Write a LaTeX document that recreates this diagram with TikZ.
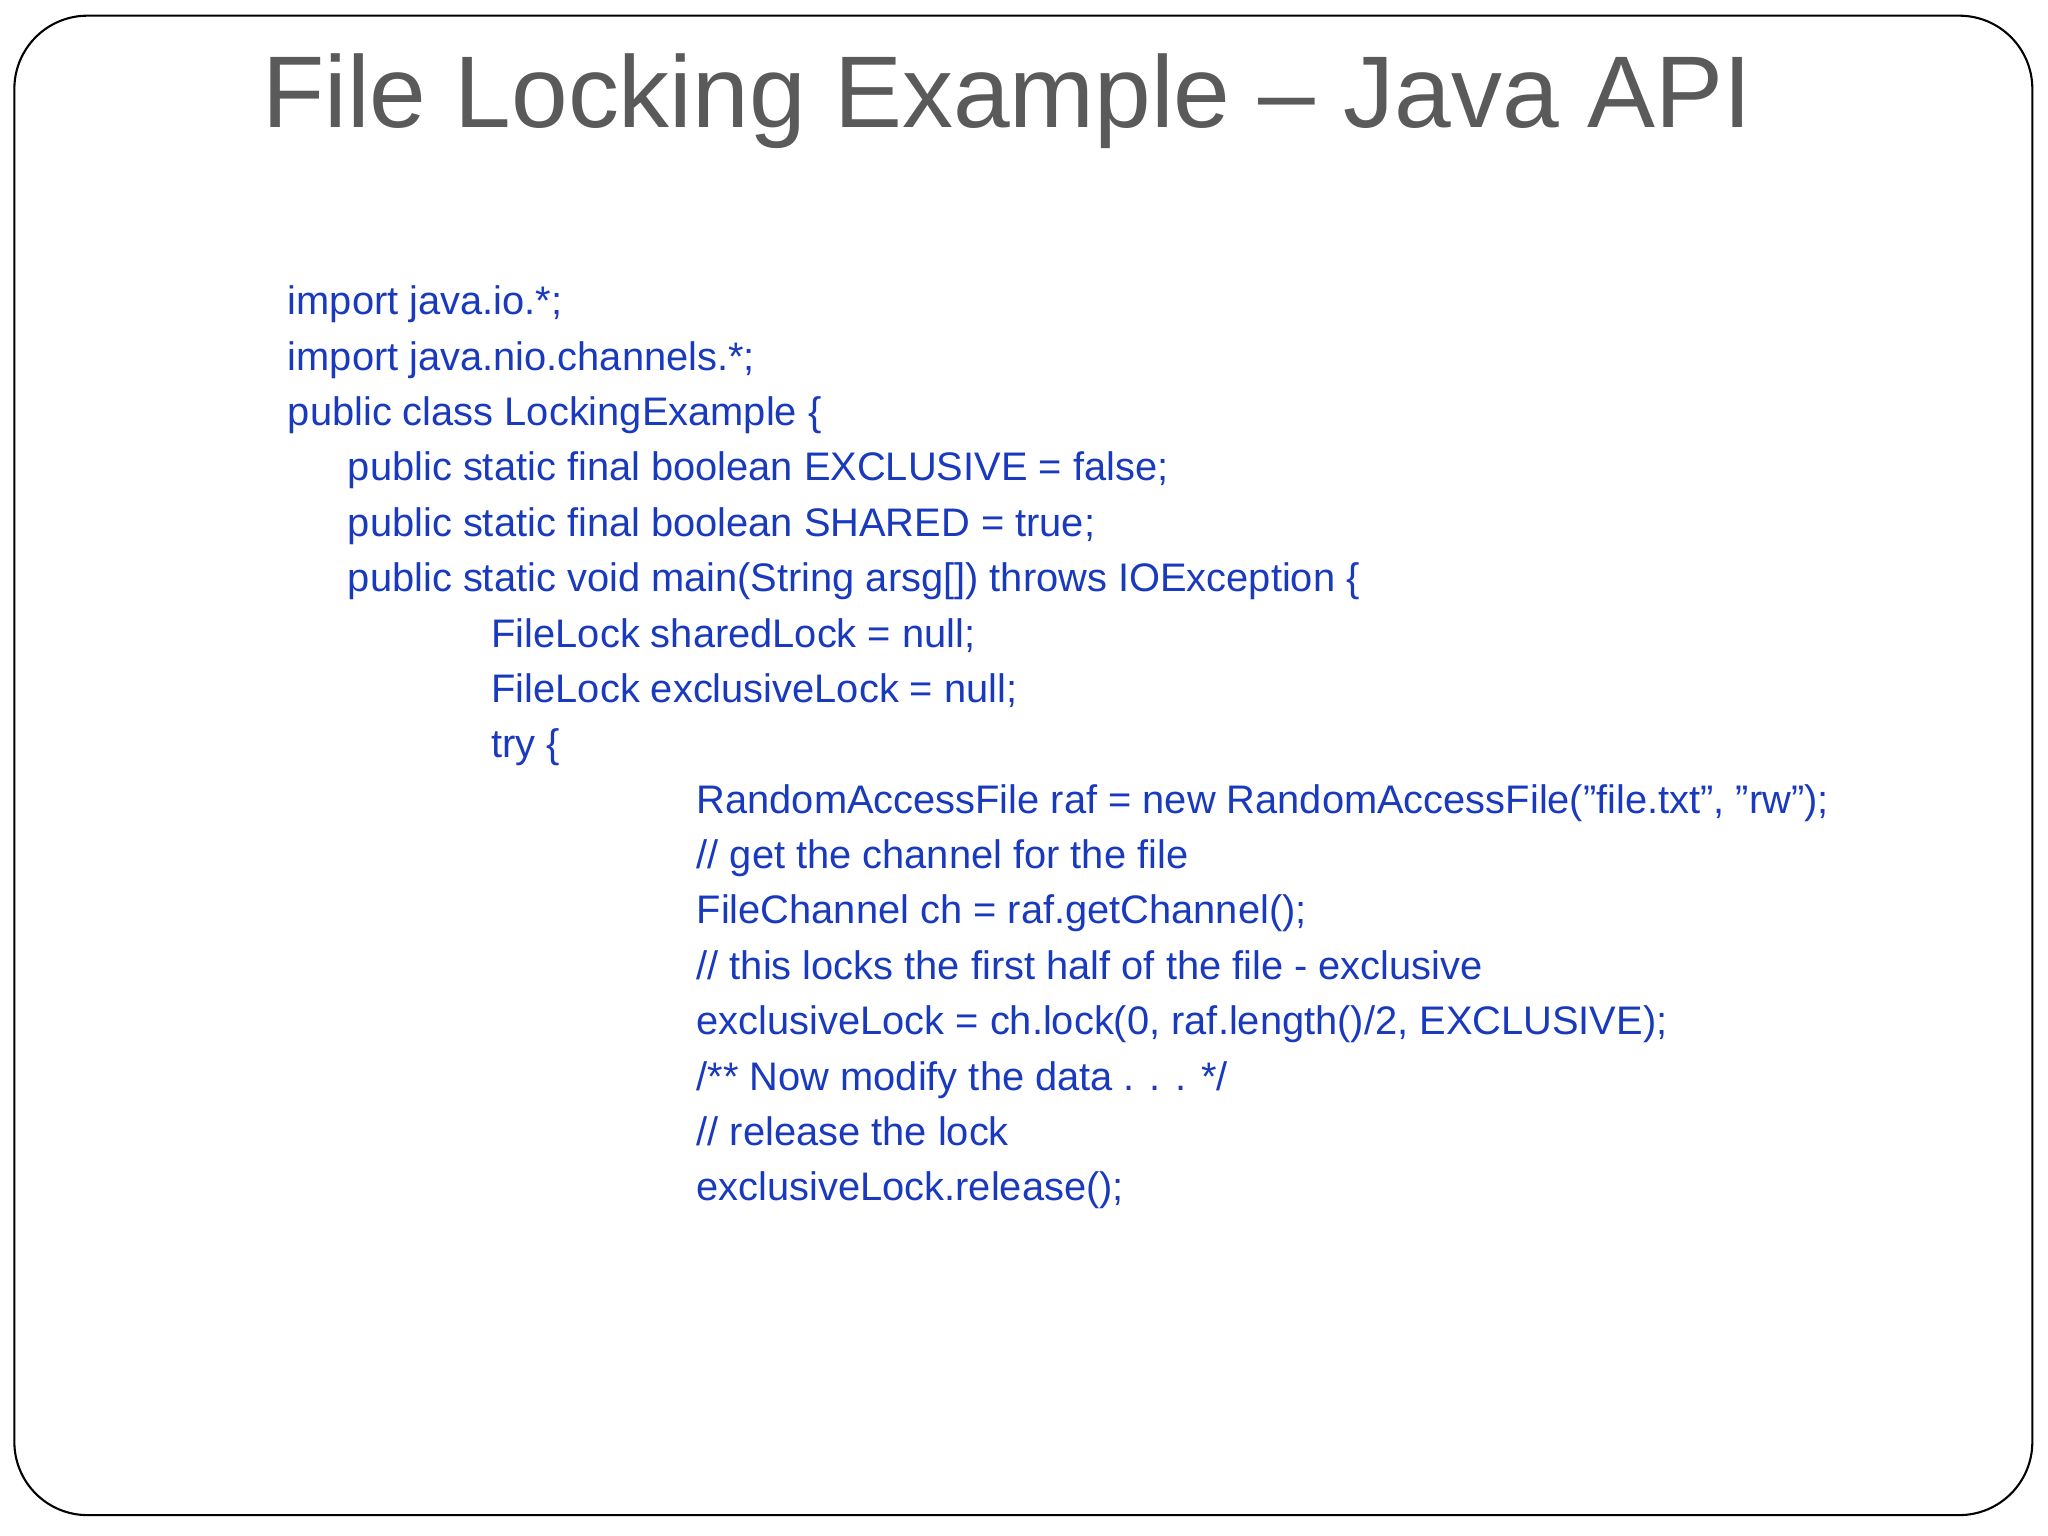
\documentclass[tikz,border=0pt]{standalone}
\usepackage{fontspec}
\setmainfont{Liberation Sans}
\definecolor{codeblue}{RGB}{26,58,190}
\definecolor{titlegray}{RGB}{90,90,90}
\newcommand{\dq}{\symbol{34}}
\begin{document}
\begin{tikzpicture}[x=0.5pt,y=-0.5pt,
  code/.style={anchor=base west,inner sep=0pt,text=codeblue,font=\fontsize{15.25pt}{18pt}\selectfont}]
\useasboundingbox (0,0) rectangle (1568,1176);
\fill[white] (0,0) rectangle (1568,1176);
\draw[line width=0.8pt,rounded corners=28pt] (11,12) rectangle (1556,1160);
\node[anchor=base,inner sep=0pt,text=titlegray,font=\fontsize{39pt}{46pt}\selectfont] (title) at (771,98) {File Locking Example – Java API};
\node[code] (l0) at (220,241) {import java.io.*;};
\node[code] (l1) at (220,283.4) {import java.nio.channels.*;};
\node[code] (l2) at (220,325.8) {public class LockingExample \{};
\node[code] (l3) at (266,368.2) {public static final boolean EXCLUSIVE = false;};
\node[code] (l4) at (266,410.6) {public static final boolean SHARED = true;};
\node[code] (l5) at (266,453) {public static void main(String arsg[]) throws IOException \{};
\node[code] (l6) at (376,495.4) {FileLock sharedLock = null;};
\node[code] (l7) at (376,537.8) {FileLock exclusiveLock = null;};
\node[code] (l8) at (376,580.2) {try \{};
\node[code] (l9) at (533,622.6) {RandomAccessFile raf = new RandomAccessFile(\dq file.txt\dq, \dq rw\dq);};
\node[code] (l10) at (533,665) {// get the channel for the file};
\node[code] (l11) at (533,707.4) {FileChannel ch = raf.getChannel();};
\node[code] (l12) at (533,749.8) {// this locks the first half of the file - exclusive};
\node[code] (l13) at (533,792.2) {exclusiveLock = ch.lock(0, raf.length()/2, EXCLUSIVE);};
\node[code] (l14) at (533,834.6) {/** Now modify the data . . . */};
\node[code] (l15) at (533,877) {// release the lock};
\node[code] (l16) at (533,919.4) {exclusiveLock.release();};
\end{tikzpicture}
\end{document}
